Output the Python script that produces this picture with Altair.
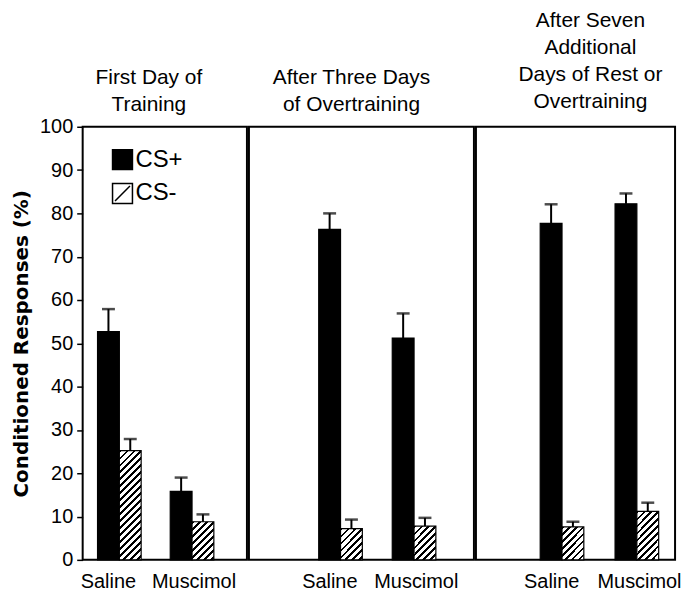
import altair as alt
import pandas as pd

# ---- data ----
panels = ["P1", "P2", "P3"]
panel_titles = [
    ["First Day of", "Training"],
    ["After Three Days", "of Overtraining"],
    ["After Seven", "Additional", "Days of Rest or", "Overtraining"],
]
drugs = ["Saline", "Muscimol"]
stimuli = ["CS+", "CS-"]
cs_plus = [[52.7, 15.8], [76.3, 51.2], [77.7, 82.2]]
cs_plus_sem = [[5.2, 3.2], [3.7, 5.7], [4.4, 2.4]]
cs_minus = [[25.2, 8.8], [7.2, 7.8], [7.6, 11.2]]
cs_minus_sem = [[2.7, 1.7], [2.1, 1.9], [1.2, 2.0]]

rows = []
for i, p in enumerate(panels):
    for j, d in enumerate(drugs):
        rows.append({"panel": p, "drug": d, "cs": "CS+", "value": cs_plus[i][j],
                     "top": cs_plus[i][j] + cs_plus_sem[i][j]})
        rows.append({"panel": p, "drug": d, "cs": "CS-", "value": cs_minus[i][j],
                     "top": cs_minus[i][j] + cs_minus_sem[i][j]})
df = pd.DataFrame(rows)

# ---- layout / style ----
PANEL_W = [165, 226, 200]
PANEL_H = 435
PAD_OUTER = [0.33, 0.73, 0.53]
ALIGN = [0.31, 0.65, 0.81]
TITLE_DX = [-16, -10, 15]
TITLE_DY = [10, 0, -3]
FONT = "Liberation Sans"


def hatch(w, h, period=7.0, line=2.6):
    r = h / w
    k = w * (1 + r * r)
    p = period / k
    d = line / k
    stops = []
    t = 0.0
    while t < 1:
        b = min(t + d, 1.0)
        c = min(t + p, 1.0)
        stops += [{"offset": round(t, 5), "color": "black"},
                  {"offset": round(b, 5), "color": "black"},
                  {"offset": round(b, 5), "color": "white"},
                  {"offset": round(c, 5), "color": "white"}]
        t += p
    return {"gradient": "linear", "x1": 0, "y1": 0, "x2": 1, "y2": round(r, 5), "stops": stops}


def sub_band_width(i):
    step = PANEL_W[i] / (2 - 0.4 + 2 * PAD_OUTER[i])
    return step * 0.6 / 2


def fill_enc(i):
    w = sub_band_width(i)
    conds = []
    for j, d in enumerate(drugs):
        h = cs_minus[i][j] * PANEL_H / 100.0
        conds.append({"test": f"datum.drug === '{d}' && datum.cs === 'CS-'",
                      "value": hatch(w, h)})
    if i == 0:
        legend = alt.Legend(
            title=None, orient="none", legendX=28, legendY=21,
            symbolType="M-1,-1H1V1H-1Z M-0.75,0.75L0.75,-0.75",
            symbolSize=400, symbolStrokeColor="black",
            symbolStrokeWidth=1.5, labelFontSize=24, labelFont=FONT,
            labelColor="black", labelOffset=1, rowPadding=8, padding=0,
        )
    else:
        legend = None
    return alt.Fill("cs:N", scale=alt.Scale(domain=stimuli, range=["black", "white"]),
                    legend=legend, condition=conds)


yaxis = alt.Axis(
    title="Conditioned Responses (%)", values=list(range(0, 101, 5)),
    labelExpr="datum.value % 10 === 0 ? datum.label : ''",
    tickSize=6, tickWidth=1.5, tickColor="black", domain=False, grid=False,
    labelFontSize=20, labelFont=FONT, labelColor="black", labelPadding=4,
    titleFont="DejaVu Sans", titleFontSize=20, titleFontWeight="bold",
    titlePadding=8, titleColor="black",
)


def panel_chart(i):
    base = alt.Chart(df).transform_filter(alt.datum.panel == panels[i])
    x = alt.X("drug:N",
              scale=alt.Scale(domain=drugs, paddingInner=0.4, paddingOuter=PAD_OUTER[i], align=ALIGN[i]),
              axis=alt.Axis(title=None, labelAngle=0, domain=False, ticks=False,
                            labelFontSize=20, labelFont=FONT, labelColor="black", labelPadding=12,
                            labelOffset={"condition": {"test": "datum.value === 'Saline'", "value": -11},
                                         "value": 2}))
    xo = alt.XOffset("cs:N", scale=alt.Scale(domain=stimuli, paddingInner=0, paddingOuter=0))
    y = alt.Y("value:Q", scale=alt.Scale(domain=[0, 100]), axis=yaxis if i == 0 else None)
    bars = base.mark_bar(stroke="black", strokeWidth=1.2).encode(
        x=x, xOffset=xo, y=y, fill=fill_enc(i))
    rules = base.mark_rule(strokeWidth=2, color="black").encode(
        x=x, xOffset=xo, y="value:Q", y2="top:Q")
    caps = base.mark_tick(size=13, thickness=2.5, color="black").encode(
        x=x, xOffset=xo, y="top:Q")
    return alt.layer(bars, rules, caps).properties(
        width=PANEL_W[i], height=PANEL_H,
        title=alt.TitleParams(panel_titles[i], fontSize=21, font=FONT, fontWeight="normal",
                              color="black", lineHeight=27, anchor="middle", offset=12,
                              dx=TITLE_DX[i], dy=TITLE_DY[i]),
    )


chart = alt.hconcat(*[panel_chart(i) for i in range(3)], spacing=0).resolve_scale(
    fill="independent"
).properties(
    padding={"left": 2, "top": 0, "right": 5, "bottom": 0}
).configure(background="white").configure_view(stroke="black", strokeWidth=2)

chart.save("out.html", embed_options={"renderer": "svg", "actions": False})
